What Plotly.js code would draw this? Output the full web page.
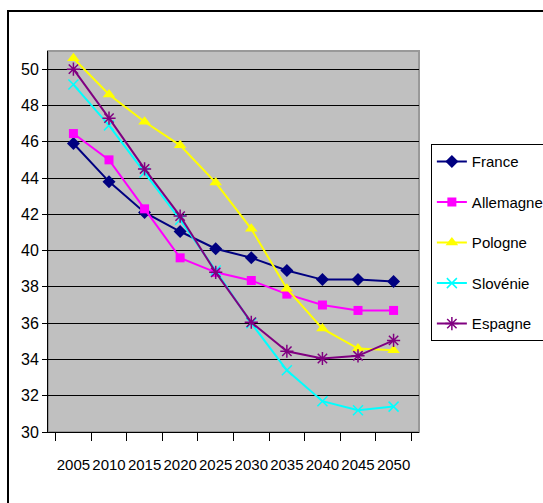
<!DOCTYPE html>
<html>
<head>
<meta charset="utf-8">
<script src="https://cdn.plot.ly/plotly-3.0.1.min.js"></script>
<style>
html,body{margin:0;padding:0;background:#fff;}
#wrap{position:relative;width:543px;height:503px;overflow:hidden;}
#chart{position:absolute;left:0;top:0;width:543px;height:503px;}
#frame{position:absolute;left:7px;top:10px;width:600px;height:600px;border-left:2px solid #000;border-top:2px solid #000;pointer-events:none;}
</style>
</head>
<body>
<div id="wrap"><div id="chart"></div><div id="frame"></div></div>
<script>
var years = ["2005","2010","2015","2020","2025","2030","2035","2040","2045","2050"];
var france    = [45.9, 43.8, 42.1, 41.05, 40.1, 39.6, 38.9, 38.4, 38.4, 38.3];
var allemagne = [46.45, 45.0, 42.3, 39.6, 38.8, 38.35, 37.6, 37.0, 36.7, 36.7];
var pologne   = [50.6, 48.6, 47.1, 45.8, 43.75, 41.2, 37.9, 35.7, 34.6, 34.5];
var slovenie  = [49.15, 46.9, 44.3, 41.7, 38.9, 36.0, 33.4, 31.7, 31.2, 31.4];
var espagne   = [50.0, 47.3, 44.5, 41.9, 38.8, 36.05, 34.45, 34.05, 34.2, 35.05];
var yTicks = [30, 32, 34, 36, 38, 40, 42, 44, 46, 48, 50];

var FONT = "'Liberation Sans', Arial, sans-serif";

function tr(name, y, color, symbol, size, lw) {
  return {
    type: 'scatter', mode: 'lines+markers', name: name, x: years, y: y,
    legendgroup: name,
    line: {color: color, width: 2},
    marker: {color: color, symbol: symbol, size: size, line: {color: color, width: lw}}
  };
}

var data = [
  tr('France', france, '#000080', 'diamond', 10, 0),
  tr('Allemagne', allemagne, '#ff00ff', 'square', 9, 0),
  tr('Pologne', pologne, '#ffff00', 'triangle-up', 11, 0),
  tr('Slovénie', slovenie, '#00ffff', 'x-thin-open', 10, 1.5),
  tr('Espagne', espagne, '#800080', 'asterisk-open', 11, 1.5)
];

var layout = {
  width: 543, height: 503,
  margin: {l: 48, r: 124, t: 51, b: 71, autoexpand: false},
  paper_bgcolor: '#ffffff',
  plot_bgcolor: '#c0c0c0',
  font: {family: FONT, size: 15, color: '#000'},
  showlegend: true,
  xaxis: {
    type: 'category',
    tickson: 'boundaries',
    tickangle: 0,
    ticks: 'outside', ticklen: 8, tickwidth: 1, tickcolor: '#000',
    showgrid: false,
    showline: true, linecolor: '#000', linewidth: 1,
    ticklabelstandoff: 19,
    tickfont: {family: FONT, size: 15, color: '#000'},
    zeroline: false
  },
  yaxis: {
    range: [30, 51],
    tickvals: yTicks,
    ticks: 'outside', ticklen: 5, tickwidth: 1, tickcolor: '#000',
    showgrid: true, gridcolor: '#000', gridwidth: 1,
    showline: true, linecolor: '#000', linewidth: 1,
    tickfont: {family: FONT, size: 16, color: '#000'},
    zeroline: false
  },
  legend: {
    x: 1.032, y: 0.755, xanchor: 'left', yanchor: 'top',
    bgcolor: '#ffffff', bordercolor: '#000', borderwidth: 1,
    font: {family: FONT, size: 15, color: '#000'},
    tracegroupgap: 18,
    itemwidth: 30
  },
  shapes: [
    {type: 'rect', xref: 'paper', yref: 'paper', x0: 0, x1: 1, y0: 0, y1: 1,
     line: {color: '#999', width: 2}, layer: 'below'}
  ]
};

Plotly.newPlot('chart', data, layout, {displayModeBar: false, staticPlot: true});
</script>
</body>
</html>
